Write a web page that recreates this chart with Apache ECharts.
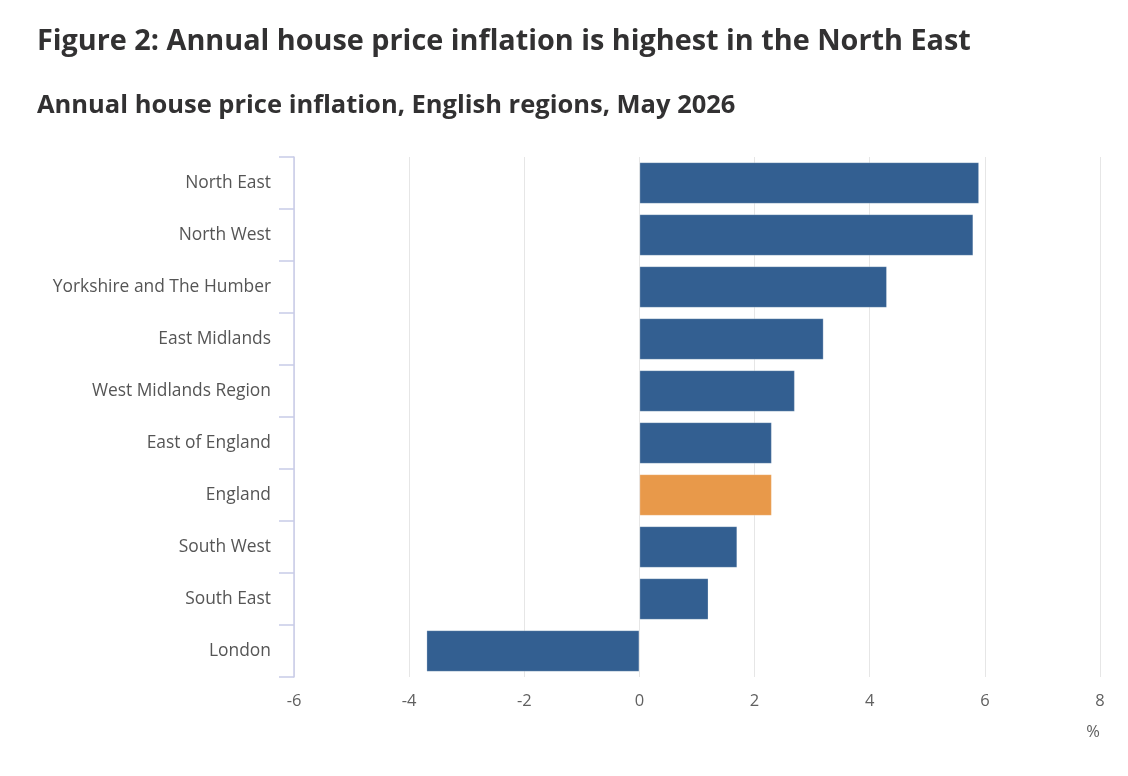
<!DOCTYPE html>
<html>
<head>
<meta charset="utf-8">
<script src="https://cdn.jsdelivr.net/npm/echarts@6/dist/echarts.min.js"></script>
<style>
  html, body { margin: 0; padding: 0; background: #fff; }
  #chart { width: 1128px; height: 776px; }
</style>
</head>
<body>
<div id="chart"></div>
<script>
// regions, top to bottom as shown
var regions = ['North East', 'North West', 'Yorkshire and The Humber', 'East Midlands', 'West Midlands Region',
    'East of England', 'England', 'South West', 'South East', 'London'];
var inflation = [5.9, 5.8, 4.3, 3.2, 2.7, 2.3, 2.3, 1.7, 1.2, -3.7];
var highlight = 'England';
var xTicks = [-6, -4, -2, 0, 2, 4, 6, 8];

window.addEventListener('load', function () {
    let chart = echarts.init(document.getElementById('chart'));
    let font = '"Open Sans", "Noto Sans", sans-serif';
    let option = {
        animation: false,
        textStyle: { fontFamily: font },
        title: [
            {
                text: 'Figure 2: Annual house price inflation is highest in the North East',
                left: 32, top: 22,
                textStyle: { fontSize: 28.8, fontWeight: 'bold', color: '#323132', fontFamily: font }
            },
            {
                text: 'Annual house price inflation, English regions, May 2026',
                left: 32, top: 88,
                textStyle: { fontSize: 25.5, fontWeight: 'bold', color: '#323132', fontFamily: font }
            }
        ],
        grid: { left: 294, right: 28, top: 157, bottom: 99, containLabel: false },
        xAxis: {
            type: 'value',
            min: xTicks[0],
            max: xTicks[xTicks.length - 1],
            interval: 2,
            axisLine: { show: false },
            axisTick: { show: false },
            splitLine: { lineStyle: { color: '#e6e6e6', width: 1 } },
            axisLabel: { color: '#606060', fontSize: 16.5, margin: 16 }
        },
        yAxis: {
            type: 'category',
            inverse: true,
            data: regions,
            axisLine: { show: true, onZero: false, lineStyle: { color: '#c8cbe8', width: 1.5 } },
            axisTick: { show: true, length: 15, lineStyle: { color: '#c8cbe8', width: 1.5 } },
            axisLabel: { color: '#555555', fontSize: 17.4, margin: 23, padding: [4, 0, 0, 0] }
        },
        graphic: [{
            type: 'text',
            right: 28, top: 724,
            style: { text: '%', fill: '#606060', font: '16.5px ' + font }
        }],
        series: [{
            type: 'bar',
            barCategoryGap: '20%',
            data: inflation.map(function (v, i) {
                return {
                    value: v,
                    itemStyle: { color: regions[i] === highlight ? '#e8994a' : '#335f91' }
                };
            }),
            itemStyle: { borderColor: 'rgba(255,255,255,0.25)', borderWidth: 1 }
        }]
    };
    chart.setOption(option);
}, false);
</script>
</body>
</html>
